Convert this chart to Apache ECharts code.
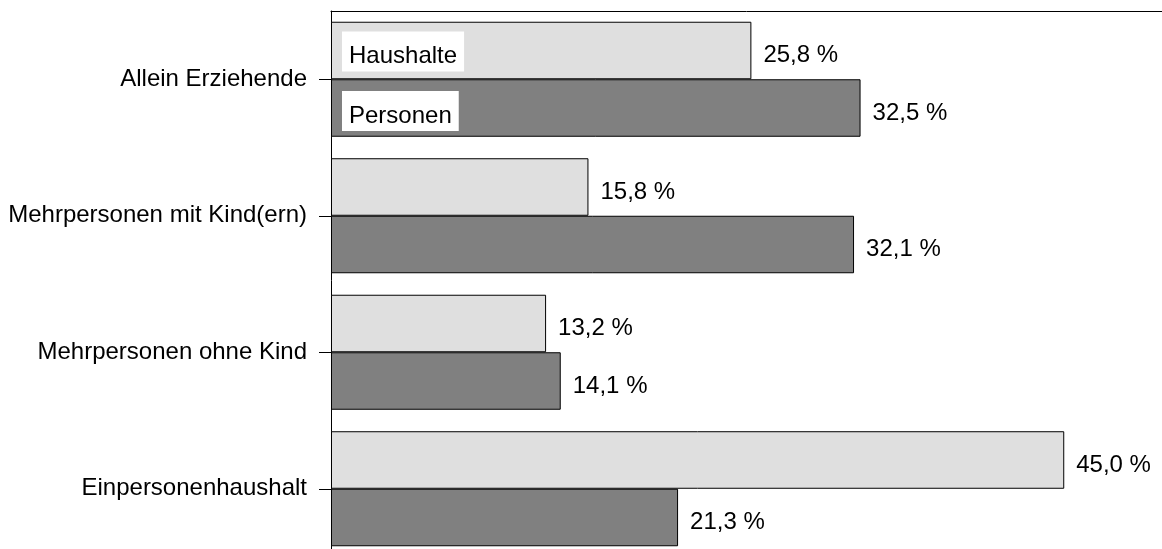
<!DOCTYPE html>
<html>
<head>
<meta charset="utf-8">
<script src="https://cdn.jsdelivr.net/npm/echarts@6/dist/echarts.min.js"></script>
<style>
html,body{margin:0;padding:0;background:#fff;}
#chart{width:1162px;height:549px;}
</style>
</head>
<body>
<div id="chart"></div>
<script>
const categories = ['Allein Erziehende', 'Mehrpersonen mit Kind(ern)', 'Mehrpersonen ohne Kind', 'Einpersonenhaushalt'];
const seriesNames = ['Haushalte', 'Personen'];
const haushalte = [25.8, 15.8, 13.2, 45.0];
const personen = [32.5, 32.1, 14.1, 21.3];

const FONT = '"Liberation Sans", Arial, sans-serif';
const fmt = p => p.value.toFixed(1).replace('.', ',') + ' %';

const valueLabel = {
  show: true, position: 'right', distance: 12, offset: [0, 5],
  formatter: fmt, color: '#000', fontSize: 24, fontFamily: FONT
};

const chart = echarts.init(document.getElementById('chart'), null, {renderer: 'canvas'});
chart.setOption({
  animation: false,
  backgroundColor: '#fff',
  grid: {left: 331, top: 11, width: 831, height: 546, containLabel: false, outerBoundsMode: 'none'},
  legend: {
    orient: 'vertical', left: 337, top: 31, padding: 0,
    icon: 'none', itemWidth: 0, itemHeight: 41, itemGap: 19,
    selectedMode: false,
    data: seriesNames,
    formatter: '{a|{name}}',
    textStyle: {
      rich: {
        a: {
          color: '#000', fontSize: 24, fontFamily: FONT,
          backgroundColor: '#fff', padding: [13, 7, 3, 7], lineHeight: 25
        }
      }
    }
  },
  xAxis: {
    type: 'value', position: 'top', min: 0, max: 51,
    axisLine: {show: true, lineStyle: {color: '#000', width: 1}},
    axisTick: {show: false}, axisLabel: {show: false}, splitLine: {show: false}
  },
  yAxis: {
    type: 'category', inverse: true, data: categories,
    axisLine: {show: true, lineStyle: {color: '#000', width: 1}},
    axisTick: {show: true, alignWithLabel: true, length: 12, lineStyle: {color: '#000'}},
    axisLabel: {color: '#000', fontSize: 24, fontFamily: FONT, margin: 24, padding: [10, 0, 0, 0]}
  },
  series: [
    {
      name: seriesNames[0], type: 'bar', data: haushalte,
      barGap: '0%', barCategoryGap: '15.75%',
      itemStyle: {color: '#dfdfdf', borderColor: '#000', borderWidth: 1},
      label: valueLabel
    },
    {
      name: seriesNames[1], type: 'bar', data: personen,
      barGap: '0%', barCategoryGap: '15.75%',
      itemStyle: {color: '#808080', borderColor: '#000', borderWidth: 1},
      label: valueLabel
    }
  ]
});
</script>
</body>
</html>
